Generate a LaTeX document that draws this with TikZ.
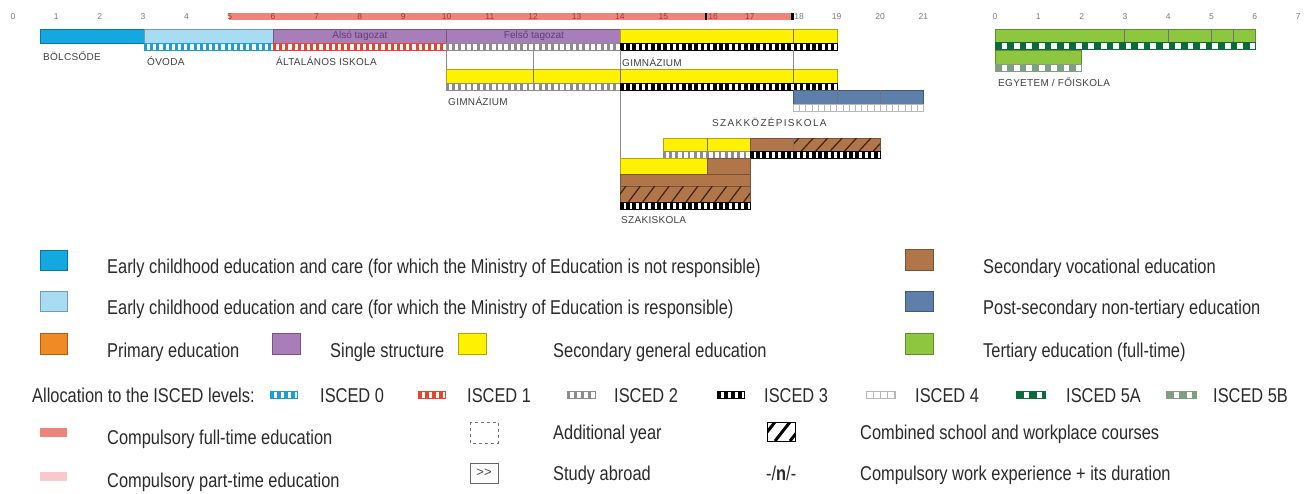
\documentclass[tikz,border=0pt]{standalone}
\usepackage{fontspec}
\setmainfont{Liberation Sans}[FakeStretch=0.82]
\newfontfamily\lblfont{Liberation Sans}[LetterSpace=3]
\newfontfamily\lblwide{Liberation Sans}[LetterSpace=13]
\newfontfamily\axfont{Liberation Sans}
\definecolor{cNur}{HTML}{14A8E0}
\definecolor{cKind}{HTML}{A8DCF2}
\definecolor{cPur}{HTML}{A77EBA}
\definecolor{cYel}{HTML}{FFF100}
\definecolor{cBrn}{HTML}{B0764A}
\definecolor{cPost}{HTML}{5D7FAA}
\definecolor{cGrn}{HTML}{8DC63F}
\definecolor{cOra}{HTML}{F08A24}
\definecolor{cComp}{HTML}{EE857C}
\definecolor{cPart}{HTML}{F8C8CC}
\definecolor{sZero}{HTML}{1C9FD6}
\definecolor{sOne}{HTML}{E8452F}
\definecolor{sTwo}{HTML}{8C8C8C}
\definecolor{sFour}{HTML}{B8B8B8}
\definecolor{sFiveA}{HTML}{0B6B3A}
\definecolor{sFiveB}{HTML}{7FA080}
\definecolor{txt}{HTML}{2B2B2B}
\definecolor{lblc}{HTML}{404040}
\definecolor{axg}{HTML}{7A7A7A}
\definecolor{axrc}{HTML}{A8362C}
\definecolor{hatchc}{HTML}{3B2214}
\definecolor{purtxt}{HTML}{5E3F72}
\tikzset{
 ebar/.style={draw=#1!70!black, line width=0.4pt, fill=#1},
 sbox/.style={draw=#1, line width=0.5pt, fill=white},
 sbar/.style args={#1/#2/#3}{draw=#1, line width=7pt, dash pattern=on #2pt off #3pt},
 divl/.style={draw=black!55, line width=0.5pt},
 conn/.style={draw=black!45, line width=0.5pt},
 ax/.style={font=\axfont\fontsize{8.5}{9}\selectfont, text=axg, inner sep=0pt},
 axred/.style={ax, text=axrc},
 lbl/.style={font=\lblfont\fontsize{10}{11}\selectfont, text=lblc, anchor=west, inner sep=0pt},
 lblw/.style={font=\lblwide\fontsize{10}{11}\selectfont, text=lblc, anchor=west, inner sep=0pt},
 tag/.style={font=\axfont\fontsize{10}{11}\selectfont, text=purtxt, inner sep=0pt},
 leg/.style={font=\fontsize{20}{22}\selectfont, text=txt, anchor=base west, inner sep=0pt},
 lsq/.style={draw=#1!70!black, line width=0.6pt, fill=#1},
 hatch/.style={draw=hatchc, line width=1.2pt},
}
\newcommand\iscrow[5]{%
  \draw[sbox=#1] (#2,#4) rectangle (#3,#4+7);
  \draw[sbar=#1/#5] (#2,#4+3.5) -- (#3,#4+3.5);
}
\newcommand\hatchbox[4]{%
  \begin{scope}
  \clip (#1,#2) rectangle (#3,#4);
  \foreach \k in {0,...,12} \draw[hatch] ({#1-6+14.4*\k},#4) -- ({#1+6+14.4*\k},#2);
  \end{scope}
}
\begin{document}
\begin{tikzpicture}[x=1pt,y=-1pt]
\useasboundingbox (0,0) rectangle (1314,493);
\fill[white] (0,0) rectangle (1314,493);

% ---------- axis ----------
\fill[cComp] (229,13) rectangle (793,20);
\fill[black] (704.5,13) rectangle (707,20);
\fill[black] (791,13) rectangle (793.5,20);
\foreach \i in {0,...,4,19,20,21} \node[ax] (ag\i) at ({13+43.35*\i},17) {\i};
\foreach \i in {5,...,15,17} \node[axred] (ag\i) at ({13+43.35*\i},17) {\i};
\node[axred] (ag16) at (713,17) {16};
\node[ax] (ag18) at (799,17) {18};
\foreach \i in {0,...,7} \node[ax] (at\i) at ({995+43.3*\i},17) {\i};

% ---------- row 1 ----------
\draw[ebar=cNur] (40,29) rectangle (144,43);
\draw[ebar=cKind] (144,29) rectangle (273,43);
\iscrow{sZero}{144}{273}{43}{3/3.2}
\draw[ebar=cPur] (273,29) rectangle (446,43);
\iscrow{sOne}{273}{446}{43}{3/3.2}
\draw[ebar=cPur] (446,29) rectangle (620,43);
\iscrow{sTwo}{446}{620}{43}{2.5/3.7}
\draw[ebar=cYel] (620,29) rectangle (837,43);
\draw[divl] (793,29) -- (793,43);
\iscrow{black}{620}{837}{43}{3.5/2.7}
\node[tag] (also) at (360,36) {Alsó tagozat};
\node[tag] (felso) at (534,36) {Felső tagozat};
\node[lbl] (bolcs) at (43,56) {BÖLCSŐDE};
\node[lbl] (ovoda) at (147,61) {ÓVODA};
\node[lbl] (altal) at (276,61) {ÁLTALÁNOS ISKOLA};
\node[lbl] (gimA) at (622,62) {GIMNÁZIUM};

% ---------- connectors ----------
\draw[conn] (446,50) -- (446,69);
\draw[conn] (533,50) -- (533,69);
\draw[conn] (620,50) -- (620,158);
\draw[conn] (793,50) -- (793,90);

% ---------- row 2 ----------
\draw[ebar=cYel] (446,69) rectangle (837,83);
\foreach \d in {533,620,793} \draw[divl] (\d,69) -- (\d,83);
\iscrow{sTwo}{446}{620}{83}{2.5/3.7}
\iscrow{black}{620}{837}{83}{3.5/2.7}
\node[lbl] (gimB) at (448,101) {GIMNÁZIUM};

% ---------- row 3 ----------
\draw[ebar=cPost] (793,90) rectangle (923,104);
\foreach \d in {837,880} \draw[divl] (\d,90) -- (\d,104);
\iscrow{sFour}{793}{923}{104}{0.8/5.4}
\node[lblw] (szakkoz) at (712,122) {SZAKKÖZÉPISKOLA};

% ---------- row 4 ----------
\draw[ebar=cYel] (663,138) rectangle (750,151);
\draw[divl] (707,138) -- (707,151);
\draw[ebar=cBrn] (750,138) rectangle (880,151);
\hatchbox{793}{138}{880}{151}
\draw[divl] (793,138) -- (793,151);
\iscrow{sTwo}{663}{750}{151}{2.5/3.7}
\iscrow{black}{750}{880}{151}{3.5/2.7}

% ---------- row 5 ----------
\draw[ebar=cYel] (620,158) rectangle (707,174);
\draw[ebar=cBrn] (707,158) rectangle (750,174);
\draw[ebar=cBrn] (620,174) rectangle (750,186);
\draw[ebar=cBrn] (620,186) rectangle (750,202);
\hatchbox{620}{186}{750}{202}
\iscrow{black}{620}{750}{202}{3.5/2.7}
\node[lbl] (szakisk) at (621,220) {SZAKISKOLA};

% ---------- tertiary ----------
\draw[ebar=cGrn] (995,29) rectangle (1255,42);
\foreach \d in {1124,1168,1211,1233} \draw[divl] (\d,29) -- (\d,42);
\iscrow{sFiveA}{995}{1255}{42}{6.5/5.9}
\draw[ebar=cGrn] (995,50) rectangle (1081,64);
\iscrow{sFiveB}{995}{1081}{64}{6.5/5.9}
\node[lbl] (egyet) at (998,82) {EGYETEM / FŐISKOLA};

% ---------- legend ----------
\draw[lsq=cNur] (40,250) rectangle (67,270);
\node[leg] (lA) at (107,273) {Early childhood education and care (for which the Ministry of Education is not responsible)};
\draw[lsq=cKind] (40,291) rectangle (67,311);
\node[leg] (lB) at (107,314) {Early childhood education and care (for which the Ministry of Education is responsible)};
\draw[lsq=cOra] (40,333) rectangle (67,354);
\node[leg] (lC) at (107,357) {Primary education};
\draw[lsq=cPur] (272,333) rectangle (300,354);
\node[leg] (lD) at (330,357) {Single structure};
\draw[lsq=cYel] (458,333) rectangle (486,354);
\node[leg] (lE) at (553,357) {Secondary general education};
\draw[lsq=cBrn] (905,249) rectangle (933,270);
\node[leg] (lF) at (983,273) {Secondary vocational education};
\draw[lsq=cPost] (905,291) rectangle (933,311);
\node[leg] (lG) at (983,314) {Post-secondary non-tertiary education};
\draw[lsq=cGrn] (905,333) rectangle (933,354);
\node[leg] (lH) at (983,357) {Tertiary education (full-time)};

\node[leg] (alloc) at (32,402) {Allocation to the ISCED levels:};
\iscrow{sZero}{270}{297}{391}{3.5/3.5}
\node[leg] (i0) at (320,402) {ISCED 0};
\iscrow{sOne}{418}{445}{391}{3.5/3.5}
\node[leg] (i1) at (467,402) {ISCED 1};
\iscrow{sTwo}{567}{595}{391}{2.5/4.5}
\node[leg] (i2) at (614,402) {ISCED 2};
\iscrow{black}{717}{744}{391}{3.5/3.5}
\node[leg] (i3) at (764,402) {ISCED 3};
\iscrow{sFour}{866}{895}{391}{0.8/6.2}
\node[leg] (i4) at (915,402) {ISCED 4};
\iscrow{sFiveA}{1016}{1045}{391}{8/5}
\node[leg] (i5a) at (1066,402) {ISCED 5A};
\iscrow{sFiveB}{1166}{1196}{391}{8/5}
\node[leg] (i5b) at (1213,402) {ISCED 5B};

\fill[cComp] (40,428) rectangle (67,437);
\node[leg] (lcf) at (107,444) {Compulsory full-time education};
\fill[cPart] (40,472) rectangle (67,481);
\node[leg] (lcp) at (107,487) {Compulsory part-time education};
\draw[black!55, dashed, line width=0.6pt] (470,422) rectangle (498,443);
\node[leg] (ladd) at (553,439) {Additional year};
\draw[black!60, line width=0.6pt] (470,463) rectangle (498,483);
\node[font=\axfont\fontsize{13}{14}\selectfont, text=black!70, inner sep=0pt] (gtgt) at (484,473) {>>};
\node[leg] (labr) at (553,480) {Study abroad};
\begin{scope}
\clip (767,422) rectangle (795,441);
\draw[black, line width=3pt] (760,441) -- (775,422);
\draw[black, line width=3pt] (775,441) -- (790,422);
\draw[black, line width=3pt] (790,441) -- (805,422);
\end{scope}
\draw[black, line width=0.8pt] (767,422) rectangle (795,441);
\node[leg] (lcomb) at (860,439) {Combined school and workplace courses};
\node[leg] (nsym) at (766,480) {-/\textbf{n}/-};
\node[leg] (lwork) at (860,480) {Compulsory work experience + its duration};
\end{tikzpicture}
\end{document}
